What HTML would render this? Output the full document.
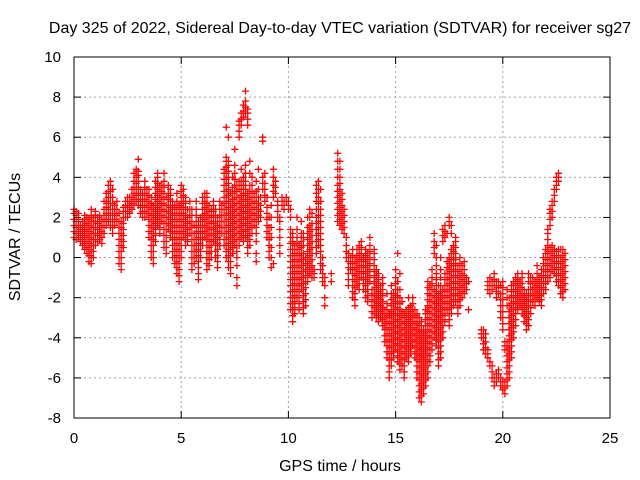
<!DOCTYPE html>
<html><head><meta charset="utf-8"><style>
html,body{margin:0;padding:0;background:#fff;}
svg{display:block;font-family:"Liberation Sans",sans-serif;}
</style></head><body>
<svg id="chart" width="640" height="480" viewBox="0 0 640 480">
<rect width="640" height="480" fill="#fff"/>
<text x="340" y="33" font-size="16" text-anchor="middle" fill="#000">Day 325 of 2022, Sidereal Day-to-day VTEC variation (SDTVAR) for receiver sg27</text>
<text x="340" y="471" font-size="16" text-anchor="middle" fill="#000">GPS time / hours</text>
<text x="20" y="237" font-size="16" text-anchor="middle" fill="#000" transform="rotate(-90 20 237)">SDTVAR / TECUs</text>
<g id="grid"></g>
<g id="ticks"></g>
<g id="marks"></g>
<rect x="74" y="57" width="536" height="361" fill="none" stroke="#000" stroke-width="1"/>
</svg>
<script>
const xTicks = [0,5,10,15,20,25];
const yTicks = [-8,-6,-4,-2,0,2,4,6,8,10];
const times = [0.0,0.1,0.2,0.3,0.4,0.5,0.6,0.7,0.8,0.9,1.0,1.1,1.2,1.3,1.4,1.5,1.6,1.7,1.8,1.9,2.0,2.1,2.2,2.3,2.4,2.5,2.6,2.7,2.8,2.9,3.0,3.1,3.2,3.3,3.4,3.5,3.6,3.7,3.8,3.9,4.0,4.1,4.2,4.3,4.4,4.5,4.6,4.7,4.8,4.9,5.0,5.1,5.2,5.3,5.4,5.5,5.6,5.7,5.8,5.9,6.0,6.1,6.2,6.3,6.4,6.5,6.6,6.7,6.8,6.9,7.0,7.1,7.2,7.3,7.4,7.5,7.6,7.7,7.8,7.9,8.0,8.1,8.2,8.3,8.4,8.5,8.6,8.7,8.8,8.9,9.0,9.1,9.2,9.3,9.4,9.5,9.6,9.7,9.8,9.9,10.0,10.1,10.2,10.3,10.4,10.5,10.6,10.7,10.8,10.9,11.0,11.1,11.2,11.3,11.4,11.5,11.6,11.7,12.0,12.3,12.4,12.5,12.6,12.7,12.8,12.9,13.0,13.1,13.2,13.3,13.4,13.5,13.6,13.7,13.8,13.9,14.0,14.1,14.2,14.3,14.4,14.5,14.6,14.7,14.8,14.9,15.0,15.1,15.2,15.3,15.4,15.5,15.6,15.7,15.8,15.9,16.0,16.1,16.2,16.3,16.4,16.5,16.6,16.7,16.8,16.9,17.0,17.1,17.2,17.3,17.4,17.5,17.6,17.7,17.8,17.9,18.0,18.1,18.2,18.3,18.4,19.0,19.1,19.2,19.3,19.4,19.5,19.6,19.7,19.8,19.9,20.0,20.1,20.2,20.3,20.4,20.5,20.6,20.7,20.8,20.9,21.0,21.1,21.2,21.3,21.4,21.5,21.6,21.7,21.8,21.9,22.0,22.1,22.2,22.3,22.4,22.5,22.6,22.7,22.8,22.9];
const values = [
[1.0,1.3,1.6,1.9,2.2,2.4],[0.9,1.2,1.5,1.8,2.1,2.3],[1.0,1.3,1.6,1.9,2.2],[0.8,1.1,1.4,1.6],[0.6,0.9,1.2,1.5,1.8],[0.4,0.7,1.0,1.3,1.6,1.9,2.1],[0.2,0.5,0.8,1.1,1.4,1.7,2.0],[-0.2,0.1,0.4,0.7,1.0,1.3,1.6,1.9],[-0.3,0.0,0.3,0.6,0.9,1.2,1.5,1.8,2.1,2.4],[0.0,0.3,0.6,0.9,1.2,1.5,1.8,2.0],
[0.6,0.9,1.2,1.5,1.8,2.1,2.3],[0.8,1.1,1.4,1.7,2.0],[0.9,1.2,1.5,1.8,2.1],[0.7,1.0,1.3,1.6,1.9],[1.2,1.5,1.8,2.1,2.4,2.8],[1.6,1.9,2.2,2.5,2.8,3.2],[1.8,2.1,2.4,2.7,3.0,3.3,3.6],[1.5,1.8,2.1,2.4,2.7,3.0,3.3,3.6,3.8],[1.2,1.5,1.8,2.1,2.4,2.7,3.0,3.4],[1.6,1.9,2.2,2.6],
[1.8,2.1,2.4,2.8],[-0.3,0.0,0.3,0.6,0.9,1.2,1.5,1.8,2.2],[-0.6,-0.3,0.0,0.3,0.6,0.9,1.2,1.5,1.8],[0.5,0.8,1.1,1.4,1.7,2.0,2.3,2.5],[2.0,2.3,2.6,2.8],[2.0,2.3,2.6,3.0],[2.2,2.5,2.8,3.0],[2.4,2.7,3.0,3.4],[2.6,2.9,3.2,3.5,3.8,4.2],[2.8,3.1,3.4,3.7,4.0,4.4],
[2.6,2.9,3.2,3.5,3.8,4.1,4.3,4.9],[2.2,2.5,2.8,3.1,3.4],[2.0,2.3,2.6,2.9,3.2],[2.0,2.3,2.6,2.9,3.2,3.5,3.8],[2.2,2.5,2.8,3.1,3.4],[1.0,1.3,1.6,1.9,2.2,2.5,2.8,3.1,3.4],[0.0,0.3,0.6,0.9,1.2,1.5,1.8,2.1,2.4,2.7,3.0],[-0.3,0.0,0.3,0.6,0.9,1.2,1.5,1.8,2.1,2.4,2.6],[0.8,1.1,1.4,1.7,2.0,2.3,2.6,2.9,3.2,3.5,3.8],[1.6,1.9,2.2,2.5,2.8,3.1,3.4,3.7,4.0,4.2],
[1.2,1.5,1.8,2.1,2.4,2.7,3.0,3.3,3.6],[1.8,2.1,2.4,2.7,3.0,3.3,3.6],[0.5,0.8,1.1,1.4,1.7,2.0,2.3,2.6,2.9,3.2,3.5,3.8,4.2],[0.2,0.5,0.8,1.1,1.4,1.7,2.0,2.3,2.6,3.0],[1.4,1.7,2.0,2.3,2.6,2.9,3.2,3.6],[1.0,1.3,1.6,1.9,2.2,2.5,2.8,3.1,3.4],[0.0,0.3,0.6,0.9,1.2,1.5,1.8,2.1,2.4,2.8],[-0.3,0.0,0.3,0.6,0.9,1.2,1.5,1.8,2.1,2.4,2.6],[-0.8,-0.5,-0.2,0.1,0.4,0.7,1.0,1.3,1.6,1.9,2.2,2.5,2.8,3.2],[-1.2,-0.9,-0.6,-0.3,0.0,0.3,0.6,0.9,1.2,1.5,1.8,2.1,2.4,2.6],
[0.0,0.3,0.6,0.9,1.2,1.5,1.8,2.1,2.4,2.7,3.0,3.3,3.6],[1.0,1.3,1.6,1.9,2.2,2.5,2.8,3.1,3.4],[0.6,0.9,1.2,1.5,1.8,2.1,2.4,2.7,3.0],[0.8,1.1,1.4,1.7,2.0,2.4],[1.2,1.5,1.8,2.1,2.4,2.8],[-0.6,-0.3,0.0,0.3,0.6,0.9,1.2,1.5,1.8,2.1,2.4],[-0.3,0.0,0.3,0.6,0.9,1.2,1.6],[0.0,0.3,0.6,0.9,1.2,1.5,1.8,2.1,2.4,2.8],[-1.1,-0.8,-0.5,-0.2,0.1,0.4,0.7,1.0,1.3,1.6,1.8],[0.0,0.3,0.6,0.9,1.2,1.5,1.8,2.0],
[0.6,0.9,1.2,1.5,1.8,2.1,2.4,2.7,3.0],[1.0,1.3,1.6,1.9,2.2,2.5,2.8,3.2],[-0.6,-0.3,0.0,0.3,0.6,0.9,1.2,1.5,1.8,2.1,2.4,2.7,3.0,3.2],[-0.4,-0.1,0.2,0.5,0.8,1.1,1.4,1.7,2.0,2.3,2.6],[0.0,0.3,0.6,0.9,1.2,1.5,1.8,2.1,2.4],[0.8,1.1,1.4,1.7,2.0,2.3,2.6,2.8],[0.0,0.3,0.6,0.9,1.2,1.5,1.8,2.1,2.4],[-0.5,-0.2,0.1,0.4,0.7,1.0,1.3,1.6,2.0],[0.6,0.9,1.2,1.5,1.8,2.1,2.4,2.8],[1.2,1.5,1.8,2.1,2.4,2.6],
[0.6,0.9,1.2,1.5,1.8,2.1,2.4,2.7,3.0,3.3,3.6,3.9,4.2,4.4],[0.0,0.3,0.6,0.9,1.2,1.5,1.8,2.1,2.4,2.7,3.0,3.3,3.6,3.9,4.2,4.5,4.8,5.0,6.5],[-0.5,-0.2,0.1,0.4,0.7,1.0,1.3,1.6,1.9,2.2,2.5,2.8,3.1,3.4,3.7,4.0,4.3,4.6,4.8,6.0],[-0.8,-0.5,-0.2,0.1,0.4,0.7,1.0,1.3,1.6,1.9,2.2,2.5,2.8,3.2],[0.2,0.5,0.8,1.1,1.4,1.7,2.0,2.3,2.6,2.9,3.2,3.5,4.0],[0.6,0.9,1.2,1.5,1.8,2.1,2.4,2.7,3.0,3.3,3.6,3.9,4.2,4.6,5.4],[-1.4,-1.0,-0.4,0.0,0.3,0.6,0.9,1.2,1.5,1.8,2.1,2.4,2.7,3.0,3.3,3.6],[0.6,0.9,1.2,1.5,1.8,2.1,2.4,2.7,3.0,3.4,3.8,6.0,6.3,6.6,6.8],[1.0,1.3,1.6,1.9,2.2,2.5,2.8,3.1,3.4,3.8,4.4,6.6,6.9,7.2],[0.8,1.1,1.4,1.7,2.0,2.3,2.6,2.9,3.2,3.6,4.0,7.0,7.3,7.6],
[1.0,1.3,1.6,1.9,2.2,2.5,2.8,3.1,3.4,3.8,4.2,4.6,7.2,7.5,7.8,8.3],[0.2,0.5,0.8,1.1,1.4,1.7,2.0,2.3,2.6,2.9,3.2,6.6,6.9,7.2,7.4],[0.6,0.9,1.2,1.5,1.8,2.1,2.4,2.7,3.0,3.3,3.6,4.2,4.8],[1.2,1.5,1.8,2.1,2.4,2.7,3.0,3.3,3.6,4.0],[1.6,1.9,2.2,2.5,2.8,3.2],[-0.2,0.2,0.8,1.2,1.5,1.8,2.1,2.4,2.7,3.0,3.3,3.8],[1.8,2.1,2.4,2.7,3.0,3.4,4.4],[2.0,2.3,2.6,3.0],[3.4,3.7,4.0,5.8,6.0],[2.8,3.1,3.4,3.7,4.2],
[1.0,1.3,1.6,1.9,2.2,2.5,3.0],[0.0,0.3,0.6,0.9,1.2,1.5,2.0],[-0.5,0.0,0.5,1.0,1.5,2.0,2.6],[-0.3,3.0,3.3,3.6,4.0,4.4],[3.2,3.5,3.8],[2.0,2.3,2.6,2.8],[0.2,0.6,1.0,1.4,1.8,2.0],[2.6,2.8,3.0],[2.4,2.6,2.8],[2.8,3.0],
[2.4,2.6,2.8],[-2.6,-2.3,-2.0,-1.7,-1.4,-1.1,-0.8,-0.5,-0.2,0.1,0.4,0.7,1.0,1.4,2.0,2.4],[-3.2,-2.9,-2.6,-2.3,-2.0,-1.7,-1.4,-1.1,-0.8,-0.5,-0.2,0.1,0.4,0.8,1.2],[-2.8,-2.5,-2.2,-1.9,-1.6,-1.3,-1.0,-0.7,-0.4,-0.1,0.2,0.6],[-2.0,-1.7,-1.4,-1.1,-0.8,-0.5,-0.2,0.1,0.4,0.7,1.0,1.4,2.0],[-2.6,-2.3,-2.0,-1.7,-1.4,-1.1,-0.8,-0.5,-0.2,0.1,0.4,0.6],[-1.6,-1.3,-1.0,-0.7,-0.4,-0.1,0.2,0.5,0.8,1.2,1.8],[-2.8,-2.5,-2.2,-1.9,-1.6,-1.3,-1.0,-0.7,-0.4,-0.1,0.2,0.6,1.0,1.2],[-2.4,-2.1,-1.8,-1.5,-1.2,-0.9,-0.6,-0.3,0.0],[-1.2,-0.9,-0.6,-0.3,0.0,0.3,0.6,0.9,1.2,1.5,2.0],
[-0.8,-0.5,-0.2,0.1,0.4,0.7,1.0,1.3,1.6,2.0,2.4],[-1.0,-0.7,-0.4,-0.1,0.2,0.5,0.8,1.1,1.4,1.7,2.2],[-1.0,-0.8,-0.6],[0.2,0.5,0.8,1.1,1.4,1.7,2.0,2.4,2.8,3.2,3.6],[0.6,0.9,1.2,1.5,1.8,2.1,2.4,2.7,3.0,3.4,3.8],[-0.6,-0.3,0.0,0.3,0.6,0.9,1.2,1.5,1.8,2.1,2.4,2.8,3.4],[-1.2,-1.0,-0.8,-0.4,0.0],[-2.4,-2.0,-1.4,-1.0],[-1.2,-0.8],
[1.8,2.1,2.4,2.7,3.0,3.3,3.6,4.0,4.4,4.8,5.2],[1.6,1.9,2.2,2.5,2.8,3.1,3.4,3.7,4.0,4.4,4.8],[1.4,1.7,2.0,2.3,2.6,2.9,3.2],[1.2,1.5,1.8,2.1,2.4],[0.0,0.3,0.6,1.0],[-1.4,-1.1,-0.8,-0.5,-0.2,0.2],[-0.6,-0.3,0.0],
[-2.0,-1.7,-1.4,-1.1,-0.8,-0.5,-0.2,0.1,0.4],[-2.4,-2.1,-1.8,-1.5,-1.2,-0.9,-0.6,-0.3,0.0],[-1.4,-1.1,-0.8,-0.5,-0.2,0.1,0.4],[-1.6,-1.3,-1.0,-0.7,-0.4,-0.1,0.2,0.6],[-1.0,-0.7,-0.4,-0.1,0.2,0.5,0.8],[-1.6,-1.3,-1.0,-0.7,-0.4,-0.1,0.0],[-2.0,-1.7,-1.4,-1.1,-0.8,-0.5,-0.2,0.1,0.4],[-2.2,-1.9,-1.6,-1.3,-1.0,-0.7,-0.4,-0.1,0.2],[-1.2,-0.9,-0.6,-0.3,0.0,0.3,0.6,1.0],[-3.0,-2.7,-2.4,-2.1,-1.8,-1.6],
[-2.8,-2.5,-2.2,-1.9,-1.6,-1.3,-1.0,-0.7,-0.4,-0.1,0.2,0.4],[-3.0,-2.7,-2.4,-2.1,-1.8,-1.5,-1.2,-0.9,-0.6],[-3.2,-2.9,-2.6,-2.3,-2.0,-1.7,-1.4,-1.1,-0.8],[-3.0,-2.7,-2.4,-2.1,-1.8,-1.4],[-3.4,-3.1,-2.8,-2.5,-2.2,-1.9,-1.6,-1.3,-1.0],[-4.2,-3.9,-3.6,-3.3,-3.0,-2.6],[-5.0,-4.7,-4.4,-4.1,-3.8,-3.5,-3.2,-2.9,-2.6,-2.3,-1.8],[-6.0,-5.7,-5.4,-5.1,-4.8,-4.5,-4.2,-3.9,-3.6,-3.3,-3.0,-2.8],[-5.4,-5.1,-4.8,-4.5,-4.2,-3.9,-3.6,-3.3,-3.0,-2.7,-2.4,-2.1,-1.8,-1.4],[-5.0,-4.7,-4.4,-4.1,-3.8,-3.5,-3.2,-2.9,-2.6,-2.3,-2.0,-1.8],
[-4.6,-4.3,-4.0,-3.7,-3.4,-3.1,-2.8,-2.5,-2.2,-1.9,-1.6,-1.3,-1.0,-0.6],[-5.2,-4.9,-4.6,-4.3,-4.0,-3.7,-3.4,-3.1,-2.8,-2.5,-2.2,-1.9,-1.6,-1.2,0.2],[-5.6,-5.3,-5.0,-4.7,-4.4,-4.1,-3.8,-3.5,-3.2,-2.9,-2.6,-2.3,-2.0,-1.6,-0.8],[-5.4,-5.1,-4.8,-4.5,-4.2,-3.9,-3.6,-3.3,-3.0,-2.7,-2.2],[-6.0,-5.7,-5.4,-5.1,-4.8,-4.5,-4.2,-3.9,-3.6,-3.3,-3.0,-2.8],[-5.0,-4.7,-4.4,-4.1,-3.8,-3.5,-3.2,-2.9,-2.6],[-5.2,-4.9,-4.6,-4.3,-4.0,-3.7,-3.4,-3.1,-2.8,-2.5,-2.0],[-4.8,-4.5,-4.2,-3.9,-3.6,-3.3,-3.0,-2.7,-2.4],[-4.4,-4.1,-3.8,-3.5,-3.2,-2.9,-2.6,-2.3,-2.0],[-5.0,-4.7,-4.4,-4.1,-3.8,-3.5,-3.2,-2.9,-2.6],
[-6.0,-5.7,-5.4,-5.1,-4.8,-4.5,-4.2,-3.9,-3.6,-3.3,-3.0,-2.8],[-7.0,-6.7,-6.4,-6.1,-5.8,-5.5,-5.2,-4.9,-4.6,-4.3,-4.0,-3.7,-3.4,-3.0],[-7.2,-6.9,-6.6,-6.3,-6.0,-5.7,-5.4,-5.1,-4.8,-4.5,-4.2,-3.9,-3.6,-3.2],[-6.8,-6.5,-6.2,-5.9,-5.6,-5.3,-5.0,-4.7,-4.4,-4.1,-3.8,-3.6],[-6.4,-6.1,-5.8,-5.5,-5.2,-4.9,-4.6,-4.3,-4.0,-3.7,-3.4,-3.1,-2.8,-2.6],[-6.0,-5.7,-5.4,-5.1,-4.8,-4.5,-4.2,-3.9,-3.6,-3.3,-3.0,-2.7,-2.4,-2.1,-1.8,-1.5,-1.2],[-5.2,-4.9,-4.6,-4.3,-4.0,-3.7,-3.4,-3.1,-2.8,-2.5,-2.2,-1.9,-1.6,-1.4],[-4.6,-4.3,-4.0,-3.7,-3.4,-3.1,-2.8,-2.5,-2.2,-1.9,-1.6,-1.3,-1.0,-0.6],[-4.0,-3.7,-3.4,-3.1,-2.8,-2.5,-2.2,-1.9,-1.6,0.2,0.5,0.8,1.2],[-4.4,-4.1,-3.8,-3.5,-3.2,-2.9,-2.6,-2.3,-2.0,-1.7,-1.4,-1.1,-0.8,-0.4,0.0,0.6],
[-5.4,-5.1,-4.8,-4.5,-4.2,-3.9,-3.6,-3.3,-3.0,-2.7,-2.4,-2.1,-1.8,-1.4],[-5.0,-4.7,-4.4,-4.1,-3.8,-3.5,-3.2,-2.9,-2.6,-2.3,-2.0,-1.7,-1.4,-1.0,-0.6,0.0],[-4.0,-3.7,-3.4,-3.1,-2.8,-2.5,-2.2,-1.9,-1.6,0.8,1.1,1.4],[-3.2,-2.9,-2.6,-2.3,-2.0,-1.7,-1.4,-1.1,-0.8,1.0,1.3,1.6],[-2.6,-2.3,-2.0,-1.7,-1.4,-1.1,-0.8,-0.5,-0.2,1.2],[-3.4,-3.1,-2.8,-2.5,-2.2,-1.9,-1.6,-1.3,-1.0,-0.6,-0.3,0.0,1.6,1.8,2.0],[-2.8,-2.5,-2.2,-1.9,-1.6,-1.3,-1.0,-0.7,-0.4,-0.1,0.2,0.4,1.2,1.6],[-2.4,-2.1,-1.8,-1.5,-1.2,-0.9,-0.6,-0.3,0.0,0.3,0.6],[-2.2,-1.9,-1.6,-1.3,-1.0,-0.7,-0.4,-0.1,0.2,0.5,0.8,1.0],[-2.8,-2.5,-2.2,-1.9,-1.6,-1.3,-1.0,-0.7,-0.4],
[-2.4,-2.1,-1.8,-1.5,-1.2,-0.9,-0.6,-0.3,0.0],[-2.0,-1.7,-1.4,-1.1,-0.8,-0.4],[-1.8,-1.5,-1.2,-0.9,-0.6,-0.2],[-1.6,-1.3,-1.0],[-2.6,-1.2],
[-4.0,-3.8,-3.6],[-4.6,-4.3,-4.0,-3.6],[-4.8,-4.5,-4.2,-3.8],[-5.0,-4.8,-4.6,-1.6,-1.4,-1.2],[-5.4,-5.2,-1.8,-1.6,-1.4,-1.2,-1.0],[-6.0,-5.7,-5.4,-1.6,-1.4,-1.2],[-6.4,-6.2,-6.0,-1.4,-1.1,-0.8],[-6.2,-6.0,-5.8,-2.0,-1.7,-1.4,-1.2],[-6.0,-5.8,-5.6,-1.8,-1.5,-1.2],[-6.4,-6.2,-6.0,-3.0,-2.7,-2.4,-2.1,-1.8,-1.4],
[-6.6,-6.4,-6.2,-3.6,-3.3,-3.0,-2.7,-2.4,-2.1,-1.8,-1.5,-1.2],[-6.8,-6.5,-6.2,-4.6,-4.4,-4.2],[-6.4,-6.1,-5.8,-5.5,-5.2,-4.9,-4.6,-4.2,-2.4,-2.0,-1.6],[-6.0,-5.7,-5.4,-5.1,-4.8,-4.5,-4.2,-3.9,-3.6,-3.3,-3.0,-2.7,-2.4,-2.0],[-5.0,-4.7,-4.4,-4.1,-3.8,-3.5,-3.2,-2.9,-2.6,-2.3,-2.0,-1.7,-1.4],[-4.0,-3.7,-3.4,-3.1,-2.8,-2.5,-2.2,-1.9,-1.6,-1.2],[-3.4,-3.1,-2.8,-2.5,-2.2,-1.9,-1.6,-1.3,-1.0],[-2.6,-2.3,-2.0,-1.7,-1.4,-1.1,-0.8],[-2.4,-2.1,-1.8,-1.5,-1.2],[-2.8,-2.5,-2.2,-1.9,-1.6,-1.3,-1.0,-0.8],
[-3.2,-2.9,-2.6,-2.3,-2.0,-1.6],[-3.6,-3.3,-3.0,-2.7,-2.4,-2.1,-1.8],[-3.4,-3.1,-2.8,-2.5,-2.2,-1.9,-1.6,-1.2,-0.8],[-2.8,-2.5,-2.2,-1.9,-1.6,-1.3,-1.0],[-2.2,-1.9,-1.6,-1.3,-1.0],[-2.4,-2.1,-1.8,-1.5,-1.2],[-2.0,-1.7,-1.4,-1.1,-0.8,-0.4],[-2.2,-1.9,-1.6,-1.3,-1.0],[-2.4,-2.1,-1.8,-1.5,-1.2,-0.9,-0.6],[-1.8,-1.5,-1.2,-0.9,-0.6,-0.3,0.0],
[-1.6,-1.3,-1.0,-0.7,-0.4,-0.1,0.2,0.4],[-1.2,-0.9,-0.6,-0.3,0.0,0.3,0.6,0.9,1.2,1.4],[-1.0,-0.7,-0.4,-0.1,0.2,0.5,1.6,1.9,2.2,2.4],[-0.6,-0.3,0.0,0.3,0.6,2.0,2.3,2.6,2.8],[-0.8,-0.5,-0.2,0.1,0.4,2.8,3.1,3.4],[-1.2,-0.9,-0.6,-0.3,0.0,0.3,3.4,3.6,3.8,4.0],[-1.4,-1.1,-0.8,-0.5,-0.2,0.1,0.4,3.8,4.0,4.2],[-1.8,-1.5,-1.2,-0.9,-0.6,-0.3,0.0,0.4],[-2.0,-1.7,-1.4,-1.1,-0.8,-0.5,-0.2,0.1,0.4],[-1.6,-1.3,-1.0,-0.7,-0.4,-0.1,0.2]
];

const NS='http://www.w3.org/2000/svg';
const X0=74,X1=610,Y0=418,Y1=57,xmin=0,xmax=25,ymin=-8,ymax=10;
function sx(v){return X0+(v-xmin)/(xmax-xmin)*(X1-X0);}
function sy(v){return Y0-(v-ymin)/(ymax-ymin)*(Y0-Y1);}
const grid=document.getElementById('grid');
const ticks=document.getElementById('ticks');
const marks=document.getElementById('marks');
function mk(tag,attrs,parent){const e=document.createElementNS(NS,tag);for(const k in attrs)e.setAttribute(k,attrs[k]);parent.appendChild(e);return e;}

xTicks.forEach(function(v){
  const x=sx(v);
  if(v>xmin&&v<xmax){
    const g=mk('line',{x1:x,y1:Y0,x2:x,y2:Y1,stroke:'#a0a0a0','stroke-dasharray':'2,3','stroke-width':1},grid);
    
    
  }
  const t1=mk('line',{x1:x,y1:Y0,x2:x,y2:Y0-7,stroke:'#000'},ticks);
  
  
  const t2=mk('line',{x1:x,y1:Y1,x2:x,y2:Y1+7,stroke:'#000'},ticks);
  
  
  const lb=mk('text',{x:x,y:Y0+25,'font-size':15,'text-anchor':'middle',fill:'#000'},ticks);
  lb.textContent=String(v);
  
  
});
yTicks.forEach(function(v){
  const y=sy(v);
  if(v>ymin&&v<ymax){
    const g=mk('line',{x1:X0,y1:y,x2:X1,y2:y,stroke:'#a0a0a0','stroke-dasharray':'2,3','stroke-width':1},grid);
    
    
  }
  const t1=mk('line',{x1:X0,y1:y,x2:X0+7,y2:y,stroke:'#000'},ticks);
  
  
  const t2=mk('line',{x1:X1,y1:y,x2:X1-7,y2:y,stroke:'#000'},ticks);
  
  
  const lb=mk('text',{x:X0-13,y:y+5,'font-size':15,'text-anchor':'end',fill:'#000'},ticks);
  lb.textContent=String(v);
  
  
});
let d='';
times.forEach(function(t,i){
  const x=sx(t);
  (values[i]||[]).forEach(function(v){
    const y=sy(v);
    d+='M'+(x-3.5).toFixed(1)+' '+y.toFixed(1)+'h7M'+x.toFixed(1)+' '+(y-3.5).toFixed(1)+'v7';
  });
});
const p=mk('path',{d:d,stroke:'#ff0000','stroke-width':1.3,fill:'none'},marks);


</script>
</body></html>
